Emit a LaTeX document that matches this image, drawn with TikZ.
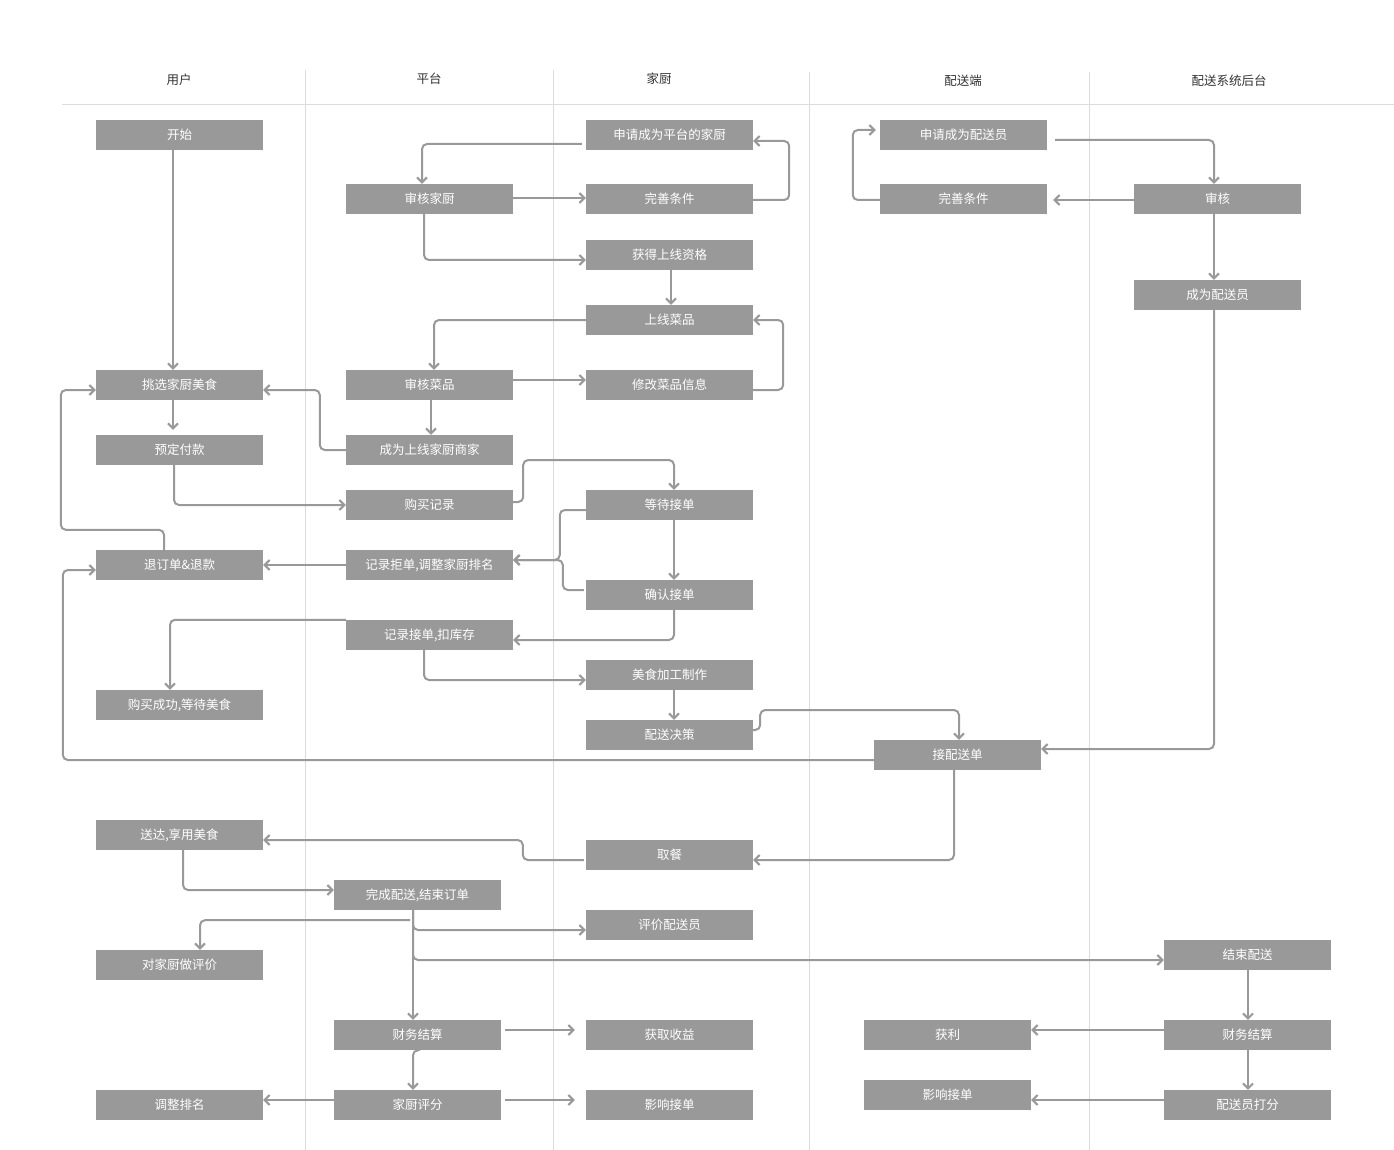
\documentclass[tikz,border=0pt]{standalone}
\usepackage{fontspec}
\newfontfamily\cjk{Noto Sans CJK SC}
\usetikzlibrary{arrows.meta}
\definecolor{boxgray}{HTML}{999999}
\definecolor{linegray}{HTML}{999999}
\definecolor{lanegray}{HTML}{DCDCDC}
\definecolor{headtext}{HTML}{333333}
\begin{document}
\begin{tikzpicture}[x=1pt,y=-1pt,
  stepbox/.style={fill=boxgray,minimum width=167pt,minimum height=30pt,inner sep=0pt,text=white,font=\cjk\fontsize{12.5}{14}\selectfont},
  head/.style={text=headtext,inner sep=0pt,font=\cjk\fontsize{12.5}{14}\selectfont},
  conn/.style={draw=linegray,line width=2pt,rounded corners=5pt,-{Straight Barb[length=5pt,width=10pt]}},
  plain/.style={draw=linegray,line width=2pt,rounded corners=5pt},
  lane/.style={draw=lanegray,line width=1pt}]
\useasboundingbox (0,0) rectangle (1394,1150);
\fill[white] (0,0) rectangle (1394,1150);
% lanes
\draw[lane] (62,105) -- (1394,105);
\draw[lane] (305,70) -- (305,1150);
\draw[lane] (553,70) -- (553,1150);
\draw[lane] (809,72) -- (809,1150);
\draw[lane] (1089,72) -- (1089,1150);
% headers
\node[head] (h1) at (179,80) {用户};
\node[head] (h2) at (429,79) {平台};
\node[head] (h3) at (659,79) {家厨};
\node[head] (h4) at (963,81) {配送端};
\node[head] (h5) at (1229,81) {配送系统后台};
% user column
\node[stepbox] (u1) at (179.5,135) {开始};
\node[stepbox] (u2) at (179.5,385) {挑选家厨美食};
\node[stepbox] (u3) at (179.5,450) {预定付款};
\node[stepbox] (u4) at (179.5,565) {退订单\&退款};
\node[stepbox] (u5) at (179.5,705) {购买成功,等待美食};
\node[stepbox] (u6) at (179.5,835) {送达,享用美食};
\node[stepbox] (u7) at (179.5,965) {对家厨做评价};
\node[stepbox] (u8) at (179.5,1105) {调整排名};
% platform column
\node[stepbox] (p1) at (429.5,199) {审核家厨};
\node[stepbox] (p2) at (429.5,385) {审核菜品};
\node[stepbox] (p3) at (429.5,450) {成为上线家厨商家};
\node[stepbox] (p4) at (429.5,505) {购买记录};
\node[stepbox] (p5) at (429.5,565) {记录拒单,调整家厨排名};
\node[stepbox] (p6) at (429.5,635) {记录接单,扣库存};
\node[stepbox] (p7) at (417.5,895) {完成配送,结束订单};
\node[stepbox] (p8) at (417.5,1035) {财务结算};
\node[stepbox] (p9) at (417.5,1105) {家厨评分};
% chef column
\node[stepbox] (c1) at (669.5,135) {申请成为平台的家厨};
\node[stepbox] (c2) at (669.5,199) {完善条件};
\node[stepbox] (c3) at (669.5,255) {获得上线资格};
\node[stepbox] (c4) at (669.5,320) {上线菜品};
\node[stepbox] (c5) at (669.5,385) {修改菜品信息};
\node[stepbox] (c6) at (669.5,505) {等待接单};
\node[stepbox] (c7) at (669.5,595) {确认接单};
\node[stepbox] (c8) at (669.5,675) {美食加工制作};
\node[stepbox] (c9) at (669.5,735) {配送决策};
\node[stepbox] (c10) at (669.5,855) {取餐};
\node[stepbox] (c11) at (669.5,925) {评价配送员};
\node[stepbox] (c12) at (669.5,1035) {获取收益};
\node[stepbox] (c13) at (669.5,1105) {影响接单};
% delivery column
\node[stepbox] (d1) at (963.5,135) {申请成为配送员};
\node[stepbox] (d2) at (963.5,199) {完善条件};
\node[stepbox] (d3) at (957.5,755) {接配送单};
\node[stepbox] (d4) at (947.5,1035) {获利};
\node[stepbox] (d5) at (947.5,1095) {影响接单};
% backend column
\node[stepbox] (b1) at (1217.5,199) {审核};
\node[stepbox] (b2) at (1217.5,295) {成为配送员};
\node[stepbox] (b3) at (1247.5,955) {结束配送};
\node[stepbox] (b4) at (1247.5,1035) {财务结算};
\node[stepbox] (b5) at (1247.5,1105) {配送员打分};
% connectors
\draw[conn] ([xshift=-6.5pt]u1.south) -- ([xshift=-6.5pt]u2.north);
\draw[conn] ([xshift=-4pt,yshift=-9pt]c1.west) -| ([xshift=-7.5pt]p1.north);
\draw[conn] ([yshift=1pt]p1.east) -- ([yshift=1pt]c2.west);
\draw[conn] ([yshift=-1pt]c2.east) -- ([xshift=36pt,yshift=-1pt]c2.east) |- ([yshift=-6pt]c1.east);
\draw[conn] ([xshift=-5.5pt]p1.south) |- ([yshift=-5pt]c3.west);
\draw[conn] ([xshift=1.5pt]c3.south) -- ([xshift=1.5pt]c4.north);
\draw[conn] (c4.west) -| ([xshift=4.5pt]p2.north);
\draw[conn] ([yshift=5pt]p2.east) -- ([yshift=5pt]c5.west);
\draw[conn] ([yshift=-5pt]c5.east) -- ([xshift=30pt,yshift=-5pt]c5.east) |- (c4.east);
\draw[conn] ([xshift=1.5pt]p2.south) -- ([xshift=1.5pt]p3.north);
\draw[conn] (p3.west) -- ([xshift=-26pt]p3.west) |- ([yshift=-5pt]u2.east);
\draw[conn] ([xshift=-6.5pt]u2.south) -- ([xshift=-6.5pt,yshift=5pt]u3.north);
\draw[conn] ([xshift=-5.5pt]u3.south) |- (p4.west);
\draw[conn] ([yshift=3pt]p4.east) -- ([xshift=10pt,yshift=3pt]p4.east) -- ([xshift=10pt,yshift=45pt]p4.east) -| ([xshift=4.5pt]c6.north);
\draw[conn] ([yshift=-5pt]c6.west) -- ([xshift=-26pt,yshift=-5pt]c6.west) |- ([yshift=5pt]p5.east);
\draw[conn] ([xshift=-2pt,yshift=5pt]c7.west) -- ([xshift=-23pt,yshift=5pt]c7.west) |- ([yshift=5pt]p5.east);
\draw[conn] ([xshift=4.5pt]c6.south) -- ([xshift=4.5pt]c7.north);
\draw[conn] ([xshift=4.5pt]c7.south) |- ([yshift=-5pt]p6.east);
\draw[conn] (p5.west) -- (u4.east);
\draw[conn] ([xshift=-15.5pt]u4.north) -- ([xshift=-15.5pt,yshift=20pt]u4.north) -- ([xshift=-35pt,yshift=20pt]u4.north west) |- ([yshift=-5pt]u2.west);
\draw[conn] (p6.north west) -| ([xshift=-9.5pt]u5.north);
\draw[conn] ([xshift=-5.5pt]p6.south) |- ([yshift=-5pt]c8.west);
\draw[conn] ([xshift=4.5pt]c8.south) -- ([xshift=4.5pt]c9.north);
\draw[conn] ([yshift=5pt]c9.east) -- ([xshift=7pt,yshift=5pt]c9.east) -- ([xshift=7pt,yshift=25pt]c9.east) -| ([xshift=1.5pt]d3.north);
\draw[conn] ([xshift=-3.5pt]b2.south) |- ([yshift=6pt]d3.east);
\draw[conn] ([yshift=-5pt]d3.west) -| ([xshift=-33pt,yshift=-5pt]u4.west) -- ([yshift=-5pt]u4.west);
\draw[conn] ([xshift=-3.5pt]d3.south) |- ([yshift=-5pt]c10.east);
\draw[conn] ([xshift=-2pt,yshift=-5pt]c10.west) -- ([xshift=-63pt,yshift=-5pt]c10.west) |- ([yshift=-5pt]u6.east);
\draw[conn] ([xshift=3.5pt]u6.south) |- ([yshift=5pt]p7.west);
\draw[conn] ([xshift=-7.5pt,yshift=-10pt]p7.south) -| ([xshift=20.5pt]u7.north);
\draw[conn] ([xshift=-4.5pt]p7.south) -- ([xshift=-4.5pt]p8.north);
\draw[conn] ([xshift=-4.5pt]p7.south) |- ([yshift=-5pt]c11.west);
\draw[conn] ([xshift=-4.5pt]p7.south) |- ([yshift=-5pt]b3.west);
\draw[conn] ([xshift=4pt,yshift=5pt]p8.east) -- ([xshift=-11pt,yshift=5pt]c12.west);
\draw[conn] ([xshift=-1pt]p8.south) -| ([xshift=-4.5pt]p9.north);
\draw[conn] ([xshift=4pt,yshift=5pt]p9.east) -- ([xshift=-11pt,yshift=5pt]c13.west);
\draw[conn] ([yshift=5pt]p9.west) -- ([yshift=5pt]u8.east);
\draw[conn] ([xshift=8pt,yshift=-5pt]d1.east) -| ([xshift=-3.5pt]b1.north);
\draw[conn] ([yshift=-1pt]b1.west) -- ([xshift=6pt,yshift=-1pt]d2.east);
\draw[conn] ([yshift=-1pt]d2.west) -- ([xshift=-27pt,yshift=-1pt]d2.west) |- ([xshift=-4pt,yshift=5pt]d1.west);
\draw[conn] ([xshift=-3.5pt]b1.south) -- ([xshift=-3.5pt]b2.north);
\draw[conn] ([xshift=0.5pt]b3.south) -- ([xshift=0.5pt]b4.north);
\draw[conn] ([xshift=0.5pt]b4.south) -- ([xshift=0.5pt]b5.north);
\draw[conn] ([yshift=5pt]b4.west) -- ([yshift=5pt]d4.east);
\draw[conn] ([yshift=5pt]b5.west) -- ([yshift=-5pt]d5.east);
\end{tikzpicture}
\end{document}
